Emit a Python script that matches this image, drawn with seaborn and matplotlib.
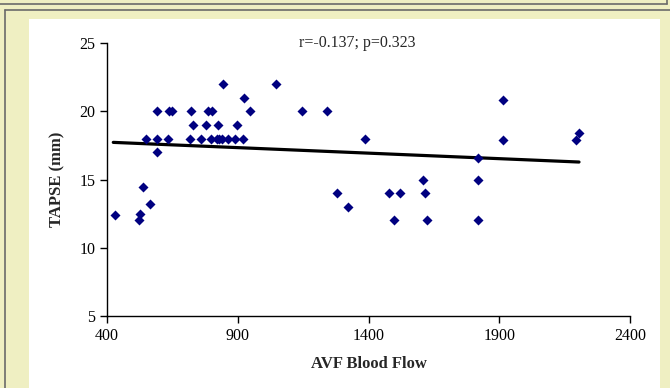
import matplotlib
matplotlib.use("Agg")
import matplotlib.pyplot as plt
import seaborn as sns
import pandas as pd
from matplotlib.patches import Rectangle
from matplotlib.lines import Line2D

# ---- data ----
avf_flow = [430, 522, 526, 536, 564,
            551, 590, 634, 719, 758, 797, 821, 828, 840, 861, 889, 920,
            593,
            593, 638, 649, 723, 787, 800, 946,
            727, 778, 823, 897,
            844, 1048, 924,
            1147, 1241, 1385, 1916, 1916, 2204, 2194, 1819, 1607, 1819,
            1278, 1478, 1521, 1616, 1320, 1497, 1622, 1819]
tapse = [12.4, 12.0, 12.5, 14.45, 13.2,
         18, 18, 18, 18, 18, 18, 18, 18, 18, 18, 18, 18,
         17,
         20, 20, 20, 20, 20, 20, 20,
         19, 19, 19, 19,
         22, 22, 21,
         20, 20, 18, 20.8, 17.9, 18.4, 17.9, 16.6, 15, 15,
         14, 14, 14, 14, 13, 12, 12, 12]
# linear trend line as drawn in the chart (read at its two ends)
trend_flow = [424, 2205]
trend_tapse = [17.72, 16.28]
x_ticks = [400, 900, 1400, 1900, 2400]
y_ticks = [5, 10, 15, 20, 25]
stat_text = "r=-0.137; p=0.323"
x_label = "AVF Blood Flow"
y_label = "TAPSE (mm)"

df = pd.DataFrame({"flow": avf_flow, "tapse": tapse})
trend = pd.DataFrame({"flow": trend_flow, "tapse": trend_tapse})

sns.set_style("ticks")
plt.rcParams["font.family"] = ["Liberation Serif", "DejaVu Serif"]

W, H = 670, 388
fig = plt.figure(figsize=(W / 100, H / 100), dpi=100)
fig.patch.set_facecolor("#EFEFC2")

def fx(px):
    return px / W

def fy(py):
    return 1 - py / H

# decorative frame
fig.add_artist(Rectangle((fx(29), fy(H)), fx(660 - 29), fy(19) - fy(H),
                         transform=fig.transFigure, facecolor="white",
                         edgecolor="none", zorder=0))
border = "#6a6a6a"
fig.add_artist(Line2D([0, fx(667)], [fy(4), fy(4)], transform=fig.transFigure, color=border, lw=1.2))
fig.add_artist(Line2D([fx(667), fx(667)], [fy(4), 1], transform=fig.transFigure, color=border, lw=1.2))
fig.add_artist(Line2D([fx(5), 1], [fy(10), fy(10)], transform=fig.transFigure, color=border, lw=1.2))
fig.add_artist(Line2D([fx(5), fx(5)], [0, fy(10)], transform=fig.transFigure, color=border, lw=1.2))

ax = fig.add_axes([fx(107), fy(316), fx(630 - 107), fy(43) - fy(316)])
ax.patch.set_alpha(0)

sns.lineplot(data=trend, x="flow", y="tapse", ax=ax, color="black", lw=2.3, zorder=3)
sns.scatterplot(data=df, x="flow", y="tapse", ax=ax, marker="D", s=26,
                color="#000080", edgecolor="#000080", linewidth=0, zorder=4)

ax.set_xlim(x_ticks[0], x_ticks[-1])
ax.set_ylim(y_ticks[0], y_ticks[-1])
ax.set_xticks(x_ticks)
ax.set_yticks(y_ticks)
ax.tick_params(axis="both", labelsize=11.5, length=5, width=1, color="black",
               labelcolor="black", direction="out")
for s in ["left", "bottom"]:
    ax.spines[s].set_color("black")
    ax.spines[s].set_linewidth(1)
sns.despine(ax=ax)

ax.set_xlabel(x_label, fontsize=12, fontweight="bold", labelpad=9)
ax.set_ylabel(y_label, fontsize=12, fontweight="bold", labelpad=10)
ax.text(0.478, 1.0, stat_text, transform=ax.transAxes, ha="center", va="center",
        fontsize=11.5)

fig.savefig("out.png", dpi=100, facecolor=fig.get_facecolor())
